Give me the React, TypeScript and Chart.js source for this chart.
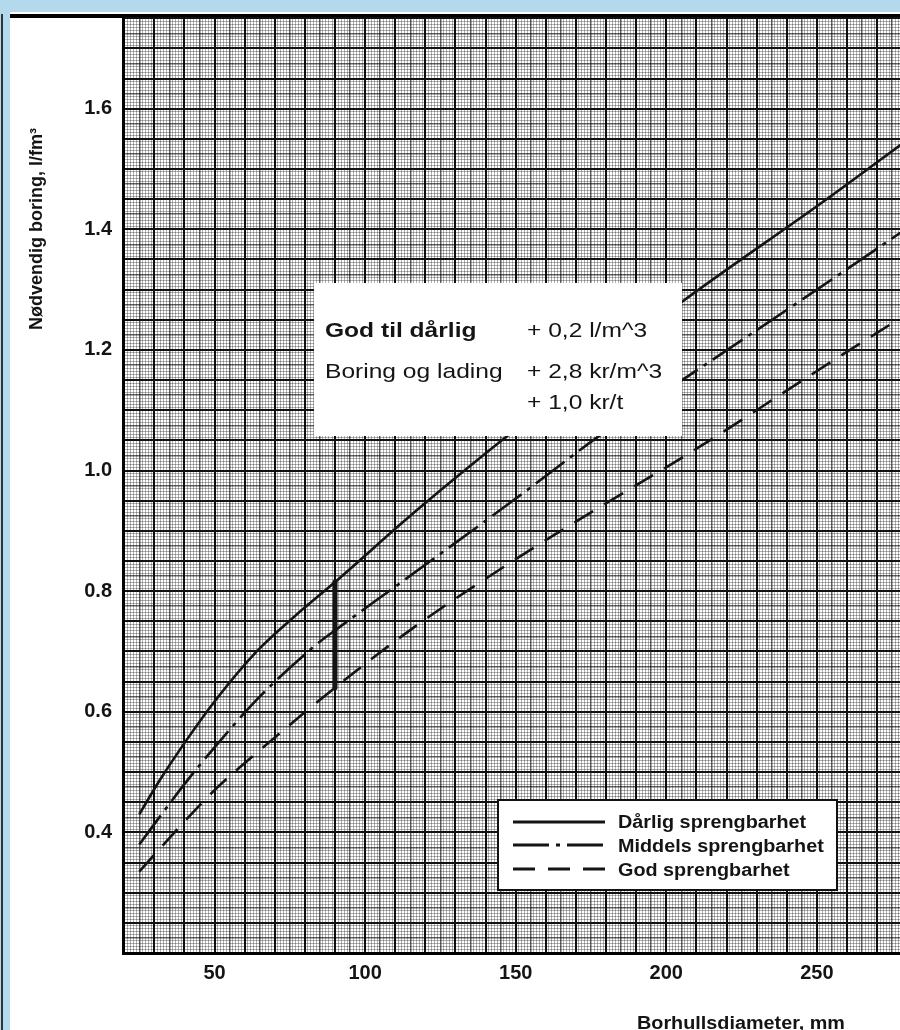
import React, { useEffect, useRef } from "react";
import { Chart, registerables } from "chart.js";

Chart.register(...registerables);

// ---------- data ----------
const DARLIG_DIAMETER = [25, 32, 40, 50, 64, 77, 90, 112, 118.5, 147.4, 205, 253, 280];
const DARLIG_BORING = [0.43, 0.488, 0.548, 0.617, 0.7, 0.76, 0.815, 0.912, 0.94, 1.058, 1.279, 1.449, 1.548];

const MIDDELS_DIAMETER = [25, 40, 50, 65, 84.4, 90, 112.9, 150.7, 179, 205, 250, 280];
const MIDDELS_BORING = [0.38, 0.48, 0.541, 0.625, 0.714, 0.735, 0.818, 0.956, 1.062, 1.149, 1.3, 1.402];

const GOD_DIAMETER = [25, 40, 50, 67.8, 90, 116.2, 150, 169.2, 210.3, 250, 280];
const GOD_BORING = [0.335, 0.418, 0.47, 0.548, 0.64, 0.74, 0.853, 0.913, 1.037, 1.165, 1.26];

const RANGE_DIAMETER = [90, 90];
const RANGE_BORING = [0.64, 0.815];

const SERIES_LABELS = ["Dårlig sprengbarhet", "Middels sprengbarhet", "God sprengbarhet"];

const X_TICK_LABELS = [50, 100, 150, 200, 250];
const Y_TICK_LABELS = [0.4, 0.6, 0.8, 1.0, 1.2, 1.4, 1.6];

const X_MIN = 19.6;
const X_MAX = 277.6;
const Y_MIN = 0.2;
const Y_MAX = 1.752;

const Y_TITLE = "Nødvendig boring, l/fm³";
const X_TITLE = "Borhullsdiameter, mm";

const NOTE_LEFT = ["God til dårlig", "Boring og lading", ""];
const NOTE_RIGHT = ["+ 0,2 l/m^3", "+ 2,8 kr/m^3", "+ 1,0 kr/t"];

// ---------- helpers ----------
const FONT = "'Liberation Sans', Arial, Helvetica, sans-serif";
const INK = "#141414";

const toPoints = (xs: number[], ys: number[]) => xs.map((x, i) => ({ x, y: ys[i] }));

function gridStyle(level: number) {
  if (level === 2) return { color: "#111111", width: 2 };
  if (level === 1) return { color: "rgba(0,0,0,0.62)", width: 1.5 };
  return { color: "rgba(0,0,0,0.3)", width: 1 };
}
function xLevel(v: number) {
  const k = Math.round(v);
  if (k % 10 === 0) return 2;
  if (k % 5 === 0) return 1;
  return 0;
}
function yLevel(v: number) {
  const k = Math.round(v * 200);
  if (k % 10 === 0) return 2;
  if (k % 5 === 0) return 1;
  return 0;
}

function drawScaledText(
  ctx: CanvasRenderingContext2D,
  text: string,
  x: number,
  y: number,
  font: string,
  sx: number,
  align: CanvasTextAlign = "left"
) {
  ctx.save();
  ctx.font = font;
  ctx.textAlign = align;
  ctx.textBaseline = "alphabetic";
  ctx.fillStyle = INK;
  ctx.translate(x, y);
  ctx.scale(sx, 1);
  ctx.fillText(text, 0, 0);
  ctx.restore();
}

const overlayPlugin = {
  id: "overlay",
  afterDatasetsDraw(chart: any) {
    const ctx: CanvasRenderingContext2D = chart.ctx;
    // note box
    ctx.save();
    ctx.fillStyle = "#ffffff";
    ctx.fillRect(304, 266, 368, 153);
    ctx.restore();
    const baselines = [320, 361, 392];
    NOTE_LEFT.forEach((t, i) => {
      if (!t) return;
      drawScaledText(ctx, t, 315, baselines[i], `${i === 0 ? "bold " : ""}21px ${FONT}`, 1.17);
    });
    NOTE_RIGHT.forEach((t, i) => {
      drawScaledText(ctx, t, 517, baselines[i], `21px ${FONT}`, 1.17);
    });

    // legend box
    ctx.save();
    ctx.fillStyle = "#ffffff";
    ctx.fillRect(488, 783, 339, 90);
    ctx.strokeStyle = "#111";
    ctx.lineWidth = 2;
    ctx.strokeRect(488, 783, 339, 90);
    ctx.restore();
    const rows = [805, 828, 852];
    const textBase = [811, 835, 859];
    chart.data.datasets.slice(0, 3).forEach((ds: any, i: number) => {
      ctx.save();
      ctx.strokeStyle = ds.borderColor;
      ctx.lineWidth = 3;
      ctx.setLineDash(ds.borderDash || []);
      ctx.beginPath();
      ctx.moveTo(503, rows[i]);
      ctx.lineTo(595, rows[i]);
      ctx.stroke();
      ctx.restore();
      drawScaledText(ctx, ds.label, 608, textBase[i], `bold 18px ${FONT}`, 1.1);
    });
  },
  afterDraw(chart: any) {
    const ctx: CanvasRenderingContext2D = chart.ctx;
    // y axis title
    ctx.save();
    ctx.translate(32, 212);
    ctx.rotate(-Math.PI / 2);
    ctx.font = `bold 18px ${FONT}`;
    ctx.textAlign = "center";
    ctx.textBaseline = "alphabetic";
    ctx.fillStyle = INK;
    ctx.fillText(Y_TITLE, 0, 0);
    ctx.restore();
    // x axis title
    drawScaledText(ctx, X_TITLE, 731, 1012, `bold 18px ${FONT}`, 1.1, "center");
  },
};

export default function App() {
  const ref = useRef<HTMLCanvasElement>(null);

  useEffect(() => {
    const canvas = ref.current;
    if (!canvas) return;
    const chart = new Chart(canvas, {
      type: "line",
      data: {
        datasets: [
          {
            label: SERIES_LABELS[0],
            data: toPoints(DARLIG_DIAMETER, DARLIG_BORING),
            borderColor: INK,
            borderWidth: 2.6,
            pointRadius: 0,
            cubicInterpolationMode: "monotone",
          },
          {
            label: SERIES_LABELS[1],
            data: toPoints(MIDDELS_DIAMETER, MIDDELS_BORING),
            borderColor: INK,
            borderWidth: 2.6,
            borderDash: [36, 7, 4, 7],
            pointRadius: 0,
            cubicInterpolationMode: "monotone",
          },
          {
            label: SERIES_LABELS[2],
            data: toPoints(GOD_DIAMETER, GOD_BORING),
            borderColor: INK,
            borderWidth: 2.6,
            borderDash: [22, 13],
            pointRadius: 0,
            cubicInterpolationMode: "monotone",
          },
          {
            label: "range",
            data: toPoints(RANGE_DIAMETER, RANGE_BORING),
            borderColor: INK,
            borderWidth: 5,
            borderCapStyle: "round",
            pointRadius: 0,
          },
        ],
      },
      options: {
        animation: false,
        responsive: false,
        devicePixelRatio: 1,
        layout: { padding: 0 },
        plugins: {
          legend: { display: false },
          tooltip: { enabled: false },
          title: { display: false },
        },
        scales: {
          x: {
            type: "linear",
            min: X_MIN,
            max: X_MAX,
            afterBuildTicks: (scale: any) => {
              const ticks = [];
              for (let v = Math.ceil(X_MIN); v <= Math.floor(X_MAX); v++) ticks.push({ value: v });
              scale.ticks = ticks;
            },
            afterFit: (scale: any) => {
              scale.height = 77;
              scale.paddingLeft = 0;
              scale.paddingRight = 0;
              scale.paddingTop = 0;
              scale.paddingBottom = 0;
            },
            grid: {
              drawTicks: false,
              color: (c: any) => gridStyle(xLevel(c.tick ? c.tick.value : 0)).color,
              lineWidth: (c: any) => gridStyle(xLevel(c.tick ? c.tick.value : 0)).width,
            },
            border: { display: true, color: "#000", width: 3 },
            ticks: {
              autoSkip: false,
              maxRotation: 0,
              minRotation: 0,
              padding: 8,
              color: INK,
              font: { family: FONT, size: 20, weight: "bold" },
              callback: (v: any) => {
                const n = Number(v);
                return X_TICK_LABELS.some((t) => Math.abs(t - n) < 1e-6) ? String(Math.round(n)) : "";
              },
            },
          },
          y: {
            type: "linear",
            min: Y_MIN,
            max: Y_MAX,
            afterBuildTicks: (scale: any) => {
              const ticks = [];
              for (let k = Math.ceil(Y_MIN * 200); k <= Math.floor(Y_MAX * 200); k++) ticks.push({ value: k / 200 });
              scale.ticks = ticks;
            },
            afterFit: (scale: any) => {
              scale.width = 113;
              scale.paddingLeft = 0;
              scale.paddingRight = 0;
              scale.paddingTop = 0;
              scale.paddingBottom = 0;
            },
            grid: {
              drawTicks: false,
              color: (c: any) => gridStyle(yLevel(c.tick ? c.tick.value : 0)).color,
              lineWidth: (c: any) => gridStyle(yLevel(c.tick ? c.tick.value : 0)).width,
            },
            border: { display: true, color: "#000", width: 3 },
            ticks: {
              autoSkip: false,
              padding: 11,
              color: INK,
              font: { family: FONT, size: 20, weight: "bold" },
              callback: (v: any) => {
                const k = Math.round(Number(v) * 200);
                return Y_TICK_LABELS.some((t) => Math.round(t * 200) === k) ? (k / 200).toFixed(1) : "";
              },
            },
          },
        },
      },
      plugins: [overlayPlugin],
    } as any);
    return () => chart.destroy();
  }, []);

  return (
    <div
      style={{
        position: "fixed",
        left: 0,
        top: 0,
        width: 900,
        height: 1030,
        background: "#b4d8ec",
        overflow: "hidden",
      }}
    >
      <div style={{ position: "absolute", left: 10, top: 12, right: 0, bottom: 0, background: "#ffffff" }} />
      <div style={{ position: "absolute", left: 1, top: 14, width: 2, bottom: 0, background: "#333333" }} />
      <div style={{ position: "absolute", left: 10, top: 14, right: 0, height: 4, background: "#000000" }} />
      <canvas
        ref={ref}
        width={890}
        height={1013}
        style={{ position: "absolute", left: 10, top: 17, width: 890, height: 1013 }}
      />
    </div>
  );
}
